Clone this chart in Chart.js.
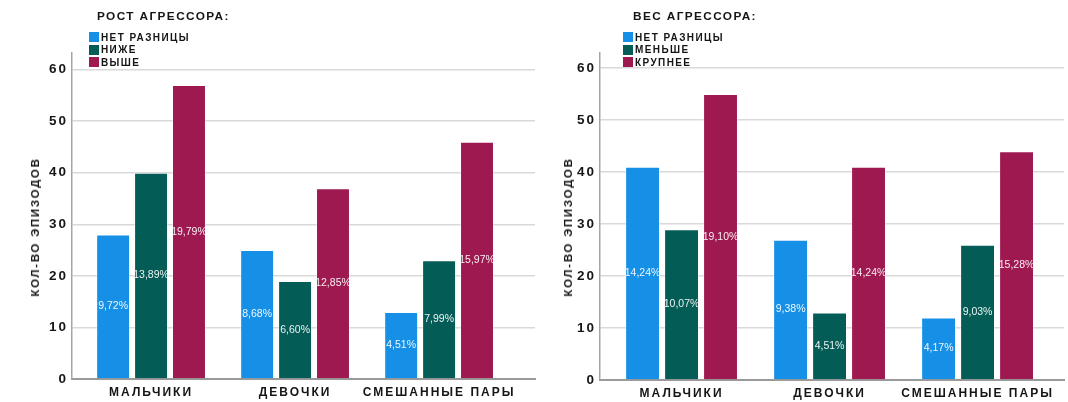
<!DOCTYPE html>
<html>
<head>
<meta charset="utf-8">
<script src="https://cdn.jsdelivr.net/npm/chart.js@4/dist/chart.umd.min.js"></script>
<style>
  body { margin: 0; background: #fff; width: 1068px; height: 402px; overflow: hidden; position: relative;
         font-family: "Liberation Sans", Arial, sans-serif; }
  .panel { position: absolute; top: 0; height: 402px; }
  .panel canvas { position: absolute; left: 0; top: 0; }
  .ttl { position: absolute; top: 10px; font-weight: bold; font-size: 11.8px; line-height: 12px;
         letter-spacing: 1.4px; color: #151515; white-space: nowrap; }
  .lg { position: absolute; top: 31px; font-weight: bold; font-size: 10px; letter-spacing: 1.4px; color: #151515; }
  .lg .row { height: 12.5px; display: flex; align-items: center; white-space: nowrap; }
  .lg .sw { width: 10px; height: 10px; margin-right: 2px; flex: none; }
  .ytl { position: absolute; font-weight: bold; font-size: 11.5px; letter-spacing: 1.7px; color: #151515;
         white-space: nowrap; transform: translate(-50%, -50%) rotate(-90deg); }
</style>
</head>
<body>
<div class="panel" id="pLeft" style="left:0;width:540px">
  <canvas id="cLeft" width="540" height="402"></canvas>
  <div class="ttl" id="tLeft" style="left:97px"></div>
  <div class="lg" id="lLeft" style="left:89px"></div>
  <div class="ytl" id="yLeft" style="left:35px;top:227px"></div>
</div>
<div class="panel" id="pRight" style="left:540px;width:528px">
  <canvas id="cRight" width="528" height="402"></canvas>
  <div class="ttl" id="tRight" style="left:93px"></div>
  <div class="lg" id="lRight" style="left:83px"></div>
  <div class="ytl" id="yRight" style="left:28px;top:227px"></div>
</div>
<script>
// Categories and axis ticks
const categories = ['МАЛЬЧИКИ', 'ДЕВОЧКИ', 'СМЕШАННЫЕ ПАРЫ'];
const yTickValues = [0, 10, 20, 30, 40, 50, 60];
const yAxisTitle = 'КОЛ-ВО ЭПИЗОДОВ';

// Aggressor height: number of episodes and share of all episodes (%)
const heightTitle = 'РОСТ АГРЕССОРА:';
const heightSeriesNames = ['НЕТ РАЗНИЦЫ', 'НИЖЕ', 'ВЫШЕ'];
const heightNoDiff = [28, 25, 13];
const heightLower = [40, 19, 23];
const heightHigher = [57, 37, 46];
const heightNoDiffPct = [9.72, 8.68, 4.51];
const heightLowerPct = [13.89, 6.60, 7.99];
const heightHigherPct = [19.79, 12.85, 15.97];

// Aggressor weight: number of episodes and share of all episodes (%)
const weightTitle = 'ВЕС АГРЕССОРА:';
const weightSeriesNames = ['НЕТ РАЗНИЦЫ', 'МЕНЬШЕ', 'КРУПНЕЕ'];
const weightNoDiff = [41, 27, 12];
const weightSmaller = [29, 13, 26];
const weightLarger = [55, 41, 44];
const weightNoDiffPct = [14.24, 9.38, 4.17];
const weightSmallerPct = [10.07, 4.51, 9.03];
const weightLargerPct = [19.10, 14.24, 15.28];

const seriesColors = ['#1590e6', '#045c56', '#9e1950'];

const FONT = '"Liberation Sans", Arial, sans-serif';

// Wide tracking for the axis text drawn by Chart.js
const trackingPlugin = {
  id: 'tracking',
  beforeUpdate(chart) { chart.ctx.letterSpacing = '2px'; },
  beforeDraw(chart) { chart.ctx.letterSpacing = '2px'; }
};

// Percentage labels in the middle of each bar
const pctLabelPlugin = {
  id: 'pctLabels',
  afterDatasetsDraw(chart) {
    const ctx = chart.ctx;
    ctx.save();
    ctx.letterSpacing = '0px';
    ctx.font = '10.5px ' + FONT;
    ctx.fillStyle = 'rgba(255,255,255,0.92)';
    ctx.textAlign = 'center';
    ctx.textBaseline = 'middle';
    chart.data.datasets.forEach((ds, i) => {
      const meta = chart.getDatasetMeta(i);
      meta.data.forEach((bar, j) => {
        const txt = ds.pct[j].toFixed(2).replace('.', ',') + '%';
        ctx.fillText(txt, bar.x, (bar.y + bar.base) / 2);
      });
    });
    ctx.restore();
  }
};

function toPoints(values) {
  return values.map((v, i) => ({ x: i, y: v }));
}

function buildChart(canvasId, series, layout) {
  const datasets = series.map((s, i) => ({
    label: s.name,
    data: toPoints(s.values),
    pct: s.pct,
    backgroundColor: seriesColors[i],
    borderColor: 'rgba(255,255,255,0.35)',
    borderWidth: 1,
    categoryPercentage: 0.79,
    barPercentage: 0.895
  }));
  return new Chart(document.getElementById(canvasId), {
    type: 'bar',
    data: { datasets },
    plugins: [trackingPlugin, pctLabelPlugin],
    options: {
      responsive: false,
      animation: false,
      layout: { padding: { top: 53, right: layout.padRight, left: 0, bottom: 0 } },
      plugins: { legend: { display: false }, title: { display: false }, tooltip: { enabled: false } },
      scales: {
        x: {
          type: 'linear',
          min: layout.xMin,
          max: layout.xMax,
          offset: false,
          afterBuildTicks(scale) { scale.ticks = categories.map((_, i) => ({ value: i })); },
          afterFit(scale) { scale.height = layout.xHeight; },
          grid: { display: false, drawTicks: false },
          border: { display: true, color: '#9a9a9a', width: 2 },
          ticks: {
            autoSkip: false, maxRotation: 0, padding: 6, color: '#151515',
            font: { family: FONT, size: 12, weight: 'bold' },
            callback: (v) => categories[v] ?? ''
          }
        },
        y: {
          min: 0,
          max: layout.yMax,
          afterBuildTicks(scale) { scale.ticks = yTickValues.map(v => ({ value: v })); },
          afterFit(scale) { scale.width = layout.yWidth; },
          grid: { color: '#d9d9d9', lineWidth: 1.5, drawTicks: false },
          border: { display: true, color: '#a5a5a5', width: 1.5 },
          ticks: {
            padding: 4, color: '#151515',
            font: { family: FONT, size: 13.5, weight: 'bold' }
          }
        }
      }
    }
  });
}

function buildLegend(chart, boxId, titleId, yTitleId, titleText) {
  document.getElementById(titleId).textContent = titleText;
  document.getElementById(yTitleId).textContent = yAxisTitle;
  const box = document.getElementById(boxId);
  chart.data.datasets.forEach(ds => {
    const row = document.createElement('div');
    row.className = 'row';
    const sw = document.createElement('span');
    sw.className = 'sw';
    sw.style.background = ds.backgroundColor;
    const tx = document.createElement('span');
    tx.textContent = ds.label;
    row.appendChild(sw);
    row.appendChild(tx);
    box.appendChild(row);
  });
}

const leftChart = buildChart('cLeft', [
  { name: heightSeriesNames[0], values: heightNoDiff, pct: heightNoDiffPct },
  { name: heightSeriesNames[1], values: heightLower, pct: heightLowerPct },
  { name: heightSeriesNames[2], values: heightHigher, pct: heightHigherPct }
], { xMin: -0.549, xMax: 2.666, yMax: 63.2, yWidth: 72, xHeight: 23, padRight: 5 });

const rightChart = buildChart('cRight', [
  { name: weightSeriesNames[0], values: weightNoDiff, pct: weightNoDiffPct },
  { name: weightSeriesNames[1], values: weightSmaller, pct: weightSmallerPct },
  { name: weightSeriesNames[2], values: weightLarger, pct: weightLargerPct }
], { xMin: -0.551, xMax: 2.584, yMax: 62.9, yWidth: 60, xHeight: 22, padRight: 4 });

buildLegend(leftChart, 'lLeft', 'tLeft', 'yLeft', heightTitle);
buildLegend(rightChart, 'lRight', 'tRight', 'yRight', weightTitle);
</script>
</body>
</html>
